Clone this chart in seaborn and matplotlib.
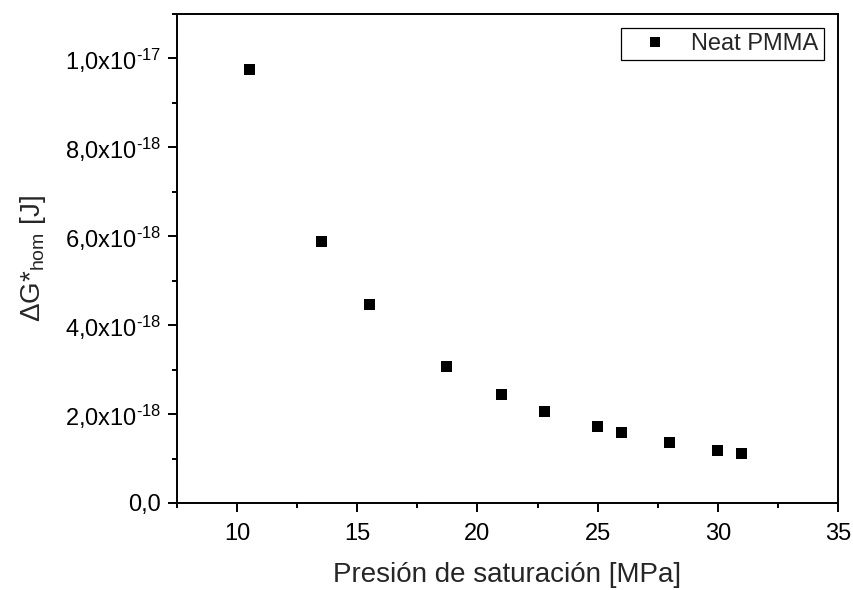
import matplotlib
matplotlib.use("Agg")
import matplotlib.pyplot as plt
from matplotlib.ticker import FuncFormatter
import seaborn as sns
import numpy as np
import pandas as pd

# datos
presion = [10.5, 13.5, 15.5, 18.7, 21.0, 22.8, 25.0, 26.0, 28.0, 30.0, 31.0]
delta_g = [9.74e-18, 5.88e-18, 4.46e-18, 3.07e-18, 2.44e-18, 2.06e-18,
           1.71e-18, 1.59e-18, 1.365e-18, 1.185e-18, 1.11e-18]
serie = "Neat PMMA"

df = pd.DataFrame({"P": presion, "G": delta_g, "serie": serie})

sns.set_theme(style="ticks")
plt.rcParams["font.family"] = ["Liberation Sans", "DejaVu Sans"]
plt.rcParams["mathtext.fontset"] = "custom"
plt.rcParams["mathtext.rm"] = "Liberation Sans"
plt.rcParams["mathtext.it"] = "Liberation Sans:italic"
plt.rcParams["mathtext.default"] = "regular"

fig = plt.figure(figsize=(8.54, 5.90), dpi=100)
ax = fig.add_axes([0.2073, 0.1475, 0.774, 0.829])

sns.scatterplot(data=df, x="P", y="G", hue="serie", palette=["black"],
                marker="s", s=62, linewidth=0, ax=ax)

ax.set_xlim(7.5, 35)
ax.set_ylim(0, 1.1e-17)
# solo ticks dentro del rango visible
ax.set_xticks(np.arange(10, 35.1, 5))
ax.set_xticks(np.arange(7.5, 35.1, 2.5), minor=True)
ax.set_yticks(np.arange(0, 10.1e-18, 2e-18))
ax.set_yticks(np.arange(0, 11.01e-18, 1e-18), minor=True)


def fmt_y(v, pos):
    if abs(v) < 1e-30:
        return "0,0"
    exp = int(np.floor(np.log10(abs(v)) + 1e-9))
    mant = v / 10**exp
    return f"{mant:.1f}".replace(".", ",") + "x10$^{\u2010" + str(-exp) + "}$"


ax.yaxis.set_major_formatter(FuncFormatter(fmt_y))

for side in ["top", "right", "bottom", "left"]:
    ax.spines[side].set_visible(True)
    ax.spines[side].set_linewidth(1.4)
    ax.spines[side].set_color("black")

ax.tick_params(which="major", direction="out", length=6.5, width=1.4,
               labelsize=17, colors="black", pad=5)
ax.tick_params(axis="x", which="major", pad=8)
ax.tick_params(which="minor", direction="out", length=3.8, width=1.4,
               colors="black")
ax.tick_params(top=False, right=False, which="both")

ax.set_xlabel("Presión de saturación [MPa]", fontsize=20, labelpad=12)
ax.set_ylabel(r"$\Delta$G*$_{\mathrm{hom}}$ [J]", fontsize=20, labelpad=12)

leg = ax.legend(loc="upper right", fontsize=17, frameon=True, fancybox=False,
                edgecolor="black", borderpad=0.22, handlelength=2.4,
                handletextpad=0.35, borderaxespad=0.6, markerscale=0.9)
leg.get_frame().set_linewidth(0.9)
leg.get_frame().set_alpha(1)

fig.savefig("out.png", dpi=100, facecolor="white")
